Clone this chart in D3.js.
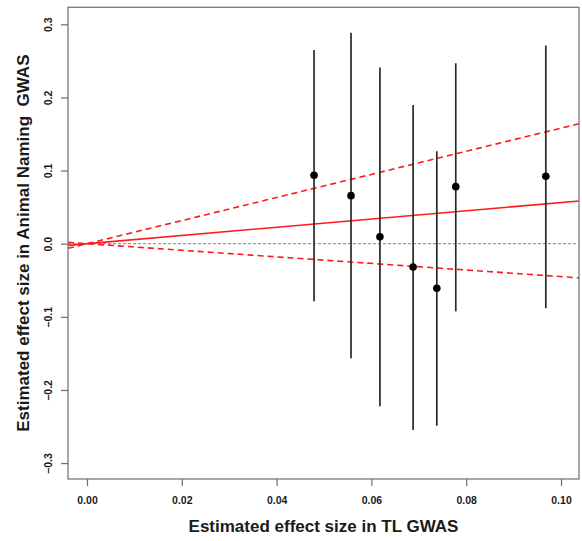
<!DOCTYPE html>
<html>
<head>
<meta charset="utf-8">
<script src="https://cdn.jsdelivr.net/npm/d3@7"></script>
<style>
  body { margin: 0; background: #fff; }
  svg text { font-family: "Liberation Sans", Arial, sans-serif; font-weight: bold; fill: #1a1a1a; }
</style>
</head>
<body>
<div class="chart"></div>
<script>
// Data
const tlEffect = [0.0479, 0.0557, 0.0618, 0.0688, 0.0738, 0.0778, 0.0968];
const namingEffect = [0.0936, 0.0657, 0.0096, -0.0319, -0.0610, 0.0780, 0.0922];
const ciLower = [-0.0788, -0.1568, -0.2224, -0.2548, -0.2490, -0.0925, -0.0884];
const ciUpper = [0.2650, 0.2886, 0.2408, 0.1897, 0.1264, 0.2468, 0.2709];
// regression through origin: slope and its interval
const slopes = [0.563, 1.580, -0.450];
const slopeStyle = ['none', '6,4', '6,4'];
const xTicks = [0, 0.02, 0.04, 0.06, 0.08, 0.10];
const yTicks = [-0.3, -0.2, -0.1, 0, 0.1, 0.2, 0.3];

const svg_width = 582, svg_height = 541;
const plot = {left: 68, top: 7.3, right: 579, bottom: 479};

const points = tlEffect.map((x, i) => ({x, y: namingEffect[i], lo: ciLower[i], hi: ciUpper[i]}));

const xScale = d3.scaleLinear().domain([0, 0.10]).range([87, 561]);
const yScale = d3.scaleLinear().domain([0, 0.3]).range([243.7, 24.3]);

const svg = d3.select('.chart').append('svg')
  .attr('width', svg_width).attr('height', svg_height);

svg.append('clipPath').attr('id', 'plotclip')
  .append('rect')
  .attr('x', plot.left).attr('y', plot.top)
  .attr('width', plot.right - plot.left).attr('height', plot.bottom - plot.top);

const inner = svg.append('g').attr('clip-path', 'url(#plotclip)');

const xMin = xScale.invert(plot.left), xMax = xScale.invert(plot.right);

// zero line
inner.append('line')
  .attr('x1', plot.left).attr('x2', plot.right)
  .attr('y1', yScale(0)).attr('y2', yScale(0))
  .style('stroke', '#999').style('stroke-width', 1.3)
  .style('stroke-dasharray', '3,2');

// regression lines
inner.selectAll('.fit').data(slopes).join('line')
  .attr('class', 'fit')
  .attr('x1', xScale(xMin)).attr('y1', d => yScale(d * xMin))
  .attr('x2', xScale(xMax)).attr('y2', d => yScale(d * xMax))
  .style('stroke', '#ff1a1a').style('stroke-width', 1.6)
  .style('stroke-dasharray', (d, i) => slopeStyle[i]);

// error bars
inner.selectAll('.bar').data(points).join('line')
  .attr('class', 'bar')
  .attr('x1', d => xScale(d.x)).attr('x2', d => xScale(d.x))
  .attr('y1', d => yScale(d.hi)).attr('y2', d => yScale(d.lo))
  .style('stroke', '#2a2a2a').style('stroke-width', 1.7);

inner.selectAll('.dot').data(points).join('circle')
  .attr('class', 'dot')
  .attr('cx', d => xScale(d.x)).attr('cy', d => yScale(d.y))
  .attr('r', 3.8).style('fill', '#000');

// box
svg.append('rect')
  .attr('x', plot.left).attr('y', plot.top)
  .attr('width', plot.right - plot.left).attr('height', plot.bottom - plot.top)
  .style('fill', 'none').style('stroke', '#6e6e6e').style('stroke-width', 1.2);

// x axis
const xAxis = d3.axisBottom(xScale).tickValues(xTicks).tickFormat(d3.format('.2f'))
  .tickSizeInner(7).tickSizeOuter(0);
const xAxisDraw = svg.append('g').attr('transform', `translate(0,${plot.bottom})`).call(xAxis);
xAxisDraw.select('.domain').remove();
xAxisDraw.selectAll('line').style('stroke', '#6e6e6e').style('stroke-width', 1.2);
xAxisDraw.selectAll('text').attr('y', 25).attr('dy', 0)
  .style('font-size', '10.5px').style('font-family', '"Liberation Sans", Arial, sans-serif')
  .style('font-weight', 'bold').style('fill', '#1a1a1a');

// y axis
const yAxis = d3.axisLeft(yScale).tickValues(yTicks).tickFormat(d3.format('.1f'))
  .tickSizeInner(7).tickSizeOuter(0);
const yAxisDraw = svg.append('g').attr('transform', `translate(${plot.left},0)`).call(yAxis);
yAxisDraw.select('.domain').remove();
yAxisDraw.selectAll('line').style('stroke', '#6e6e6e').style('stroke-width', 1.2);
yAxisDraw.selectAll('text')
  .attr('x', 0).attr('dy', 0)
  .attr('transform', 'translate(-16.5,0) rotate(-90)')
  .style('text-anchor', 'middle')
  .style('font-size', '10.5px').style('font-family', '"Liberation Sans", Arial, sans-serif')
  .style('font-weight', 'bold').style('fill', '#1a1a1a');

// titles
svg.append('text')
  .attr('x', (plot.left + plot.right) / 2).attr('y', 532)
  .style('text-anchor', 'middle').style('font-size', '17px')
  .text('Estimated effect size in TL GWAS');

svg.append('text')
  .attr('transform', `translate(29,${(plot.top + plot.bottom) / 2}) rotate(-90)`)
  .style('text-anchor', 'middle').style('font-size', '17px')
  .style('white-space', 'pre')
  .text('Estimated effect size in Animal Naming  GWAS');
</script>
</body>
</html>
